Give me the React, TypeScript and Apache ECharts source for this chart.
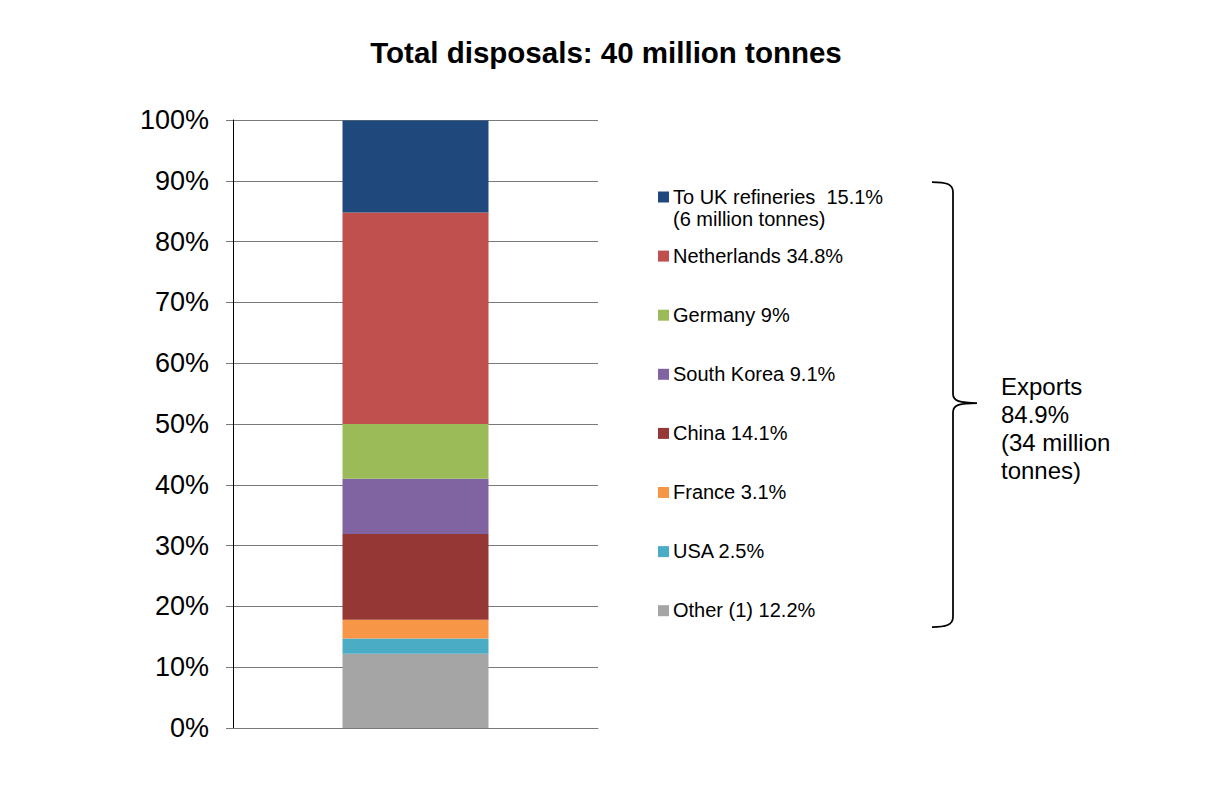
import React, { useEffect, useRef } from "react";
import * as echarts from "echarts";

const categories = [""];
const seriesNames = ["Other (1)", "USA", "France", "China", "South Korea", "Germany", "Netherlands", "To UK refineries"];
const seriesValues = [12.2, 2.5, 3.1, 14.1, 9.1, 9, 34.8, 15.1];
const seriesColors = ["#A5A5A5", "#4BACC6", "#F79646", "#953735", "#8064A2", "#9BBB59", "#C0504D", "#1F497D"];
const legendLabels = [
  "Other (1) 12.2%",
  "USA 2.5%",
  "France 3.1%",
  "China 14.1%",
  "South Korea 9.1%",
  "Germany 9%",
  "Netherlands 34.8%",
  "To UK refineries  15.1%\n(6 million tonnes)",
];
const yTicks = [0, 10, 20, 30, 40, 50, 60, 70, 80, 90, 100];
const titleText = "Total disposals: 40 million tonnes";
const exportsText = "Exports\n84.9%\n(34 million\ntonnes)";

const FONT = "'Liberation Sans', Arial, sans-serif";

echarts.graphic.registerShape(
  "brace",
  echarts.graphic.extendPath(
    "M 932 182 C 946 182 953 184 953 192 L 953 394 C 953 401 960 403 977 403 C 960 403 953 405 953 412 L 953 617 C 953 625 946 627 932 627",
    {}
  )
);

export default function App() {
  const ref = useRef<HTMLDivElement>(null);
  useEffect(() => {
    if (!ref.current) return;
    const chart = echarts.init(ref.current, undefined, { renderer: "svg" });

    const legendGraphics: any[] = [];
    const order = seriesNames.map((_, i) => seriesNames.length - 1 - i); // top to bottom
    order.forEach((si, k) => {
      const cy = 197 + k * 59.1;
      legendGraphics.push({
        type: "rect",
        shape: { x: 658, y: cy - 5.5, width: 11, height: 11 },
        style: { fill: seriesColors[si] },
      });
      legendGraphics.push({
        type: "text",
        x: 673,
        y: cy - 11.5,
        style: {
          text: legendLabels[si],
          font: `20px ${FONT}`,
          fill: "#000",
          lineHeight: 22,
          verticalAlign: "top",
          align: "left",
        },
      });
    });

    chart.setOption({
      animation: false,
      backgroundColor: "#fff",
      title: {
        text: titleText,
        left: "center",
        top: 32,
        textStyle: { fontSize: 29.5, fontWeight: "bold", fontFamily: FONT, color: "#000" },
      },
      grid: { left: 233, right: 614, top: 120, bottom: 82, containLabel: false },
      xAxis: {
        type: "category",
        data: categories,
        axisLine: { show: true, lineStyle: { color: "#7a7a7a", width: 1 } },
        axisTick: { show: false },
        axisLabel: { show: false },
      },
      yAxis: {
        type: "value",
        min: yTicks[0],
        max: yTicks[yTicks.length - 1],
        interval: 10,
        axisLine: { show: true, lineStyle: { color: "#000", width: 1 } },
        axisTick: { show: true, length: 7, lineStyle: { color: "#7a7a7a" } },
        splitLine: { show: true, lineStyle: { color: "#7a7a7a", width: 1 } },
        axisLabel: {
          formatter: "{value}%",
          fontSize: 27,
          fontFamily: FONT,
          color: "#000",
          margin: 24,
        },
      },
      series: seriesNames.map((name, i) => ({
        name,
        type: "bar",
        stack: "total",
        barWidth: 146,
        data: [seriesValues[i]],
        itemStyle: { color: seriesColors[i] },
        z: 3,
      })),
      graphic: [
        ...legendGraphics,
        {
          type: "brace",
          x: 0,
          y: 0,
          style: { fill: "none", stroke: "#000", lineWidth: 1.75 },
        },
        {
          type: "text",
          x: 1001,
          y: 372,
          style: {
            text: exportsText,
            font: `24px ${FONT}`,
            fill: "#000",
            lineHeight: 28,
            verticalAlign: "top",
            align: "left",
          },
        },
      ],
    });
    return () => chart.dispose();
  }, []);
  return (
    <div
      ref={ref}
      style={{ position: "fixed", left: 0, top: 0, width: 1212, height: 810, background: "#fff" }}
    />
  );
}
